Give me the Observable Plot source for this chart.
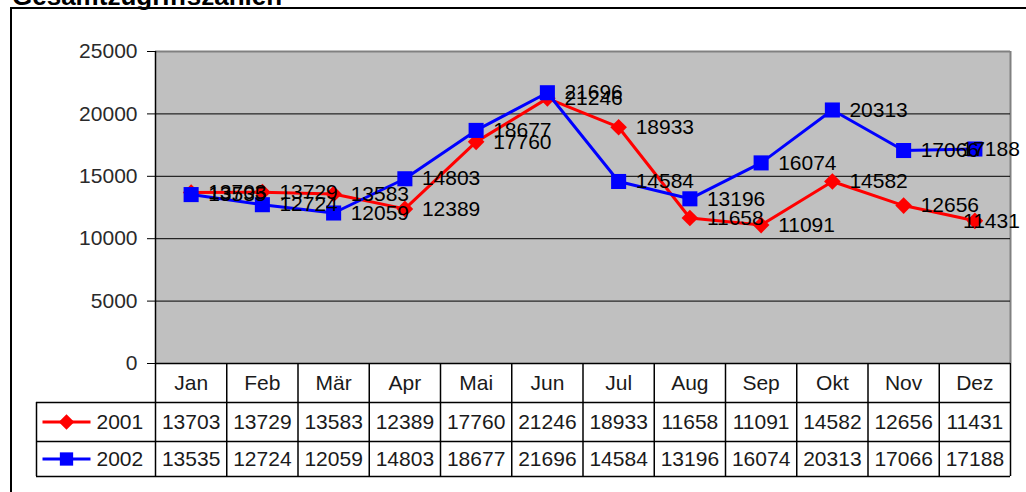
<!DOCTYPE html>
<html>
<head>
<meta charset="utf-8">
<script src="https://cdn.jsdelivr.net/npm/d3@7"></script>
<script src="https://cdn.jsdelivr.net/npm/@observablehq/plot@0.6"></script>
<style>
  html, body { margin: 0; padding: 0; background: #fff; overflow: hidden; }
  #wrap { position: relative; width: 1026px; height: 492px; overflow: hidden; font-family: Arial, "Liberation Sans", sans-serif; }
  #title { position: absolute; left: 12px; top: -17.5px; font-size: 26px; line-height: 1; font-weight: bold; color: #000; white-space: nowrap; }
  #frame { position: absolute; left: 10px; top: 7px; width: 1030px; height: 500px; border-left: 2px solid #000; border-top: 2px solid #000; }
  #chart { position: absolute; left: 0; top: 0; }
  #chart svg { overflow: visible; }
</style>
</head>
<body>
<div id="wrap">
  <div id="title">Gesamtzugriffszahlen</div>
  <div id="frame"></div>
  <div id="chart"></div>
</div>
<script>
// ---- data ----
const months = ["Jan","Feb","Mär","Apr","Mai","Jun","Jul","Aug","Sep","Okt","Nov","Dez"];
const values2001 = [13703,13729,13583,12389,17760,21246,18933,11658,11091,14582,12656,11431];
const values2002 = [13535,12724,12059,14803,18677,21696,14584,13196,16074,20313,17066,17188];
const seriesNames = ["2001","2002"];
const seriesColors = ["#ff0000","#0000ff"];
const yTicks = [0,5000,10000,15000,20000,25000];

// ---- layout (pixels) ----
const W = 1026, H = 492;
const plotLeft = 155, plotRight = 1010;
const plotTop = 51, zeroPx = 363, tableBottom = 476;
const rowLines = [363, 402, 441, 476];
const legendLeftPx = 36;

const yMax = 25000;
const unitPerPx = yMax / (zeroPx - plotTop);
const pxToY = px => -(px - zeroPx) * unitPerPx;
const xPerPx = 12 / (plotRight - plotLeft);
const pxToX = px => -0.5 + (px - plotLeft) * xPerPx;
const yMin = pxToY(tableBottom);

const n = months.length;
const rows2001 = values2001.map((v, i) => ({i, v, m: months[i], s: "2001"}));
const rows2002 = values2002.map((v, i) => ({i, v, m: months[i], s: "2002"}));
const legendRows = seriesNames.map((s, k) => ({s, k, color: seriesColors[k], y: pxToY((rowLines[k+1] + rowLines[k+2]) / 2)}));
const monthRowY = pxToY((rowLines[0] + rowLines[1]) / 2);

const xLo = -0.5, xHi = n - 0.5;
const legendLeft = pxToX(legendLeftPx);
const fs = 21;

const labelMarks = (rows) => [
  Plot.text(rows.filter(d => d.i < n - 1), {x: "i", y: "v", text: d => String(d.v), textAnchor: "start", dx: 17, fill: "#000", fontSize: fs}),
  Plot.text(rows.filter(d => d.i === n - 1), {x: "i", y: "v", text: d => String(d.v), textAnchor: "end", dx: 45, fill: "#000", fontSize: fs})
];

const chart = Plot.plot({
  width: W,
  height: H,
  marginLeft: plotLeft,
  marginRight: W - plotRight,
  marginTop: plotTop,
  marginBottom: H - tableBottom,
  style: {fontFamily: "Arial, 'Liberation Sans', sans-serif", background: "transparent", color: "#000"},
  x: {type: "linear", domain: [xLo, xHi], axis: null},
  y: {type: "linear", domain: [yMin, yMax], axis: null},
  marks: [
    // plot area
    Plot.rect([0], {x1: xLo, x2: xHi, y1: 0, y2: yMax, fill: "#c0c0c0"}),
    Plot.ruleY([yMax], {x1: xLo, x2: xHi, stroke: "#808080", strokeWidth: 2}),
    Plot.ruleX([xHi], {y1: 0, y2: yMax, stroke: "#808080", strokeWidth: 2}),
    Plot.ruleY(yTicks.filter(t => t > 0 && t < yMax), {x1: xLo, x2: xHi, stroke: "#000", strokeWidth: 1}),
    Plot.ruleX([xLo], {y1: 0, y2: yMax, stroke: "#000", strokeWidth: 1.5}),
    Plot.axisY(yTicks, {tickSize: 8, tickPadding: 10, fontSize: fs, fill: "#2a2a2a", stroke: "#000", anchor: "left", tickFormat: d3.format("d")}),

    // data table
    Plot.rect([0], {x1: xLo, x2: xHi, y1: yMin, y2: 0, fill: "#fff"}),
    Plot.rect([0], {x1: legendLeft, x2: xLo, y1: yMin, y2: pxToY(rowLines[1]), fill: "#fff"}),
    Plot.ruleY([0], {x1: xLo, x2: xHi, stroke: "#000", strokeWidth: 1.5}),
    Plot.ruleY(rowLines.slice(1).map(pxToY), {x1: legendLeft, x2: xHi, stroke: "#000", strokeWidth: 1.5}),
    Plot.ruleX(d3.range(n + 1).map(i => i - 0.5), {y1: yMin, y2: 0, stroke: "#000", strokeWidth: 1.5}),
    Plot.ruleX([legendLeft], {y1: yMin, y2: pxToY(rowLines[1]), stroke: "#000", strokeWidth: 1.5}),
    Plot.text(months, {x: (d, i) => i, y: monthRowY, text: d => d, fill: "#1a1a1a", fontSize: fs}),
    Plot.text(rows2001, {x: "i", y: legendRows[0].y, text: d => String(d.v), fill: "#1a1a1a", fontSize: fs}),
    Plot.text(rows2002, {x: "i", y: legendRows[1].y, text: d => String(d.v), fill: "#1a1a1a", fontSize: fs}),

    // legend inside table
    Plot.link(legendRows, {x1: pxToX(42), x2: pxToX(90), y1: "y", y2: "y", stroke: "color", strokeWidth: 3}),
    Plot.dot(legendRows.slice(0,1), {x: pxToX(66), y: "y", symbol: "diamond2", r: 7, fill: "color", stroke: null}),
    Plot.dot(legendRows.slice(1,2), {x: pxToX(66), y: "y", symbol: "square", r: 7.5, fill: "color", stroke: null}),
    Plot.text(legendRows, {x: pxToX(96), y: "y", text: "s", textAnchor: "start", fill: "#1a1a1a", fontSize: fs}),

    // series lines and markers
    Plot.line(rows2001, {x: "i", y: "v", stroke: seriesColors[0], strokeWidth: 3}),
    Plot.dot(rows2001, {x: "i", y: "v", symbol: "diamond2", r: 7.5, fill: seriesColors[0], stroke: null}),
    Plot.line(rows2002, {x: "i", y: "v", stroke: seriesColors[1], strokeWidth: 3}),
    Plot.dot(rows2002, {x: "i", y: "v", symbol: "square", r: 8.5, fill: seriesColors[1], stroke: null}),

    // data labels
    ...labelMarks(rows2001),
    ...labelMarks(rows2002)
  ]
});
document.getElementById("chart").appendChild(chart);
</script>
</body>
</html>
